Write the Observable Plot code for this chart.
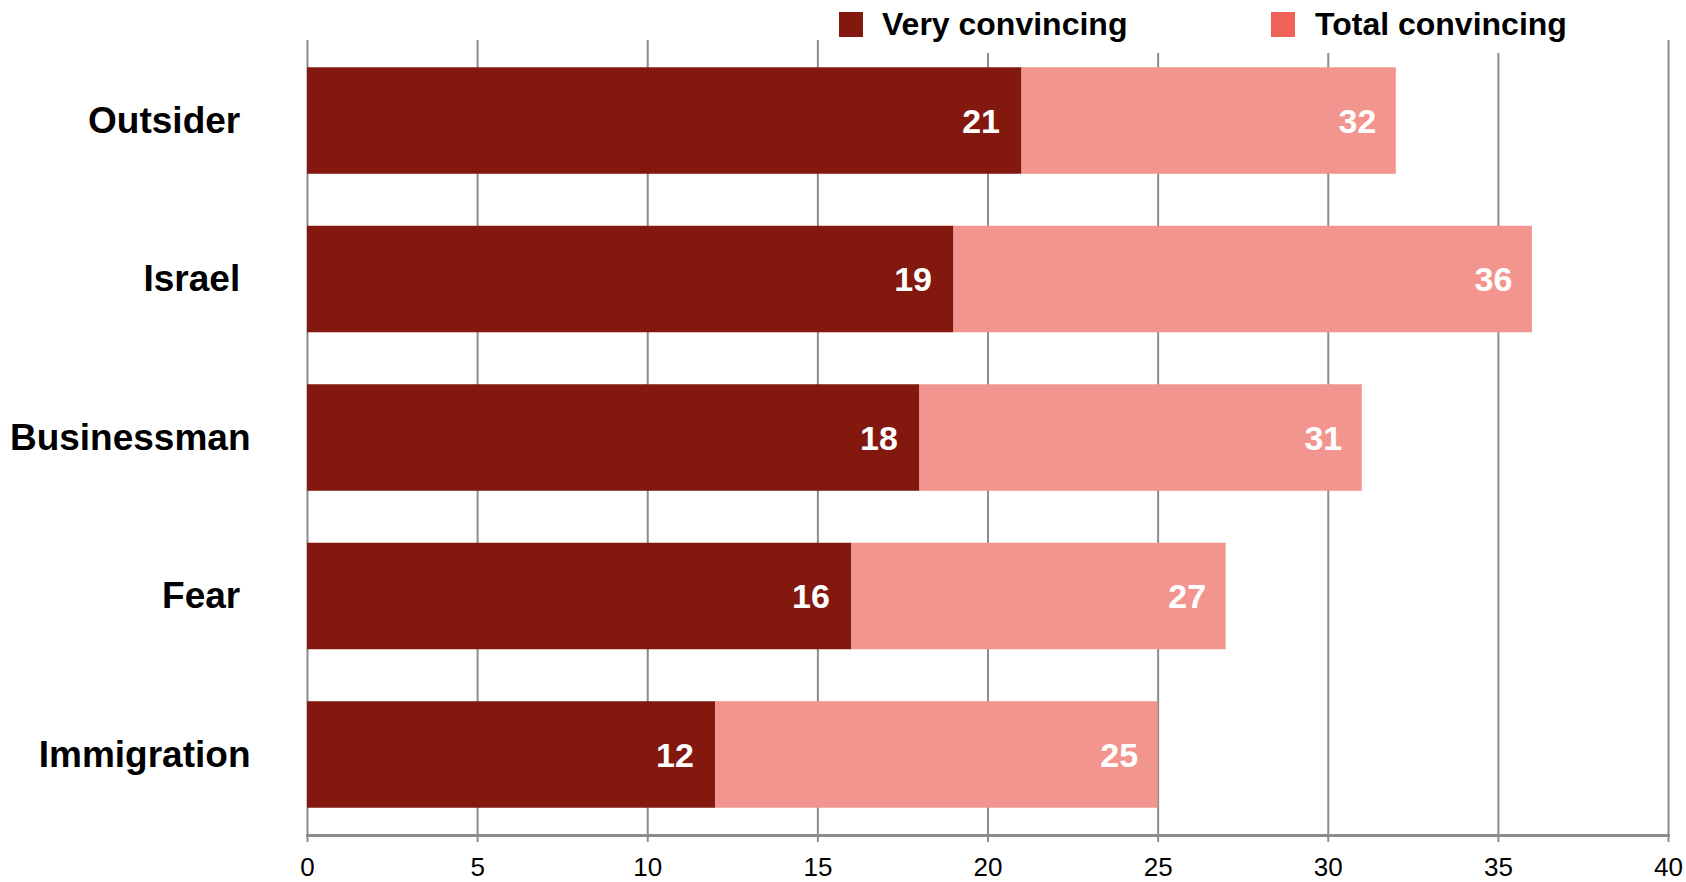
<!DOCTYPE html>
<html>
<head>
<meta charset="utf-8">
<script src="https://cdn.jsdelivr.net/npm/d3@7"></script>
<script src="https://cdn.jsdelivr.net/npm/@observablehq/plot@0.6"></script>
<style>
  html, body { margin: 0; padding: 0; background: #fff; }
  #wrap { position: relative; width: 1686px; height: 882px; font-family: "Liberation Sans", Arial, Helvetica, sans-serif; }
  #wrap svg text { white-space: pre; }
  #legend { position: absolute; left: 828px; top: 0; width: 832px; height: 53px; background: #fff; }
  .sw { position: absolute; top: 12px; width: 24px; height: 25px; }
  .lab { position: absolute; top: 6px; font-size: 32px; font-weight: bold; color: #000; white-space: nowrap; line-height: 36px; }
</style>
</head>
<body>
<div id="wrap"></div>
<script>
const categories = ["Outsider", "Israel", "Businessman", "Fear", "Immigration"];
const categoryLabels = ["Outsider ", "Israel ", "Businessman", "Fear ", "Immigration"];
const veryConvincing = [21, 19, 18, 16, 12];
const totalConvincing = [32, 36, 31, 27, 25];
const xTicks = [0, 5, 10, 15, 20, 25, 30, 35, 40];
const seriesNames = ["Very convincing", "Total convincing"];
const barColors = ["#83180F", "#F3958F"];
const legendColors = ["#83180F", "#EE625A"];

const rows = categories.map((c, i) => ({cat: c, very: veryConvincing[i], total: totalConvincing[i]}));
const labelOf = Object.fromEntries(categories.map((c, i) => [c, categoryLabels[i]]));

const font = '"Liberation Sans", Arial, Helvetica, sans-serif';
const chart = Plot.plot({
  width: 1686,
  height: 882,
  marginLeft: 307,
  marginRight: 18,
  marginTop: 40,
  marginBottom: 47,
  style: {fontFamily: font, color: "#000", background: "#fff"},
  x: {domain: [0, 40]},
  y: {domain: categories, paddingInner: 0.328, paddingOuter: 0.172, round: false},
  marks: [
    Plot.gridX(xTicks, {stroke: "#8c8c8c", strokeOpacity: 1, strokeWidth: 2}),
    Plot.barX(rows, {x1: 0, x2: "very", y: "cat", fill: barColors[0]}),
    Plot.barX(rows, {x1: "very", x2: "total", y: "cat", fill: barColors[1]}),
    Plot.frame({anchor: "bottom", stroke: "#8c8c8c", strokeWidth: 3}),
    Plot.axisX({ticks: xTicks, tickSize: 7, tickPadding: 15, stroke: "#8c8c8c", strokeWidth: 2, strokeOpacity: 1, fill: "#000", fontSize: 26, label: null}),
    Plot.axisY({tickSize: 0, tickPadding: 57, fontSize: 37, fontWeight: "bold", fill: "#000", label: null, tickFormat: d => labelOf[d]}),
    Plot.text(rows, {x: "very", y: "cat", text: d => String(d.very), textAnchor: "end", dx: -22, dy: 1, fill: "#fff", fontSize: 34, fontWeight: "bold"}),
    Plot.text(rows, {x: "total", y: "cat", text: d => String(d.total), textAnchor: "end", dx: -20, dy: 1, fill: "#fff", fontSize: 34, fontWeight: "bold"})
  ]
});

const wrap = document.getElementById("wrap");
wrap.appendChild(chart);

const legend = document.createElement("div");
legend.id = "legend";
const pos = [{sw: 11, lab: 54}, {sw: 443, lab: 487}];
seriesNames.forEach((name, i) => {
  const sw = document.createElement("div");
  sw.className = "sw";
  sw.style.left = pos[i].sw + "px";
  sw.style.background = legendColors[i];
  const lab = document.createElement("div");
  lab.className = "lab";
  lab.style.left = pos[i].lab + "px";
  lab.textContent = name;
  legend.appendChild(sw);
  legend.appendChild(lab);
});
wrap.appendChild(legend);
</script>
</body>
</html>
